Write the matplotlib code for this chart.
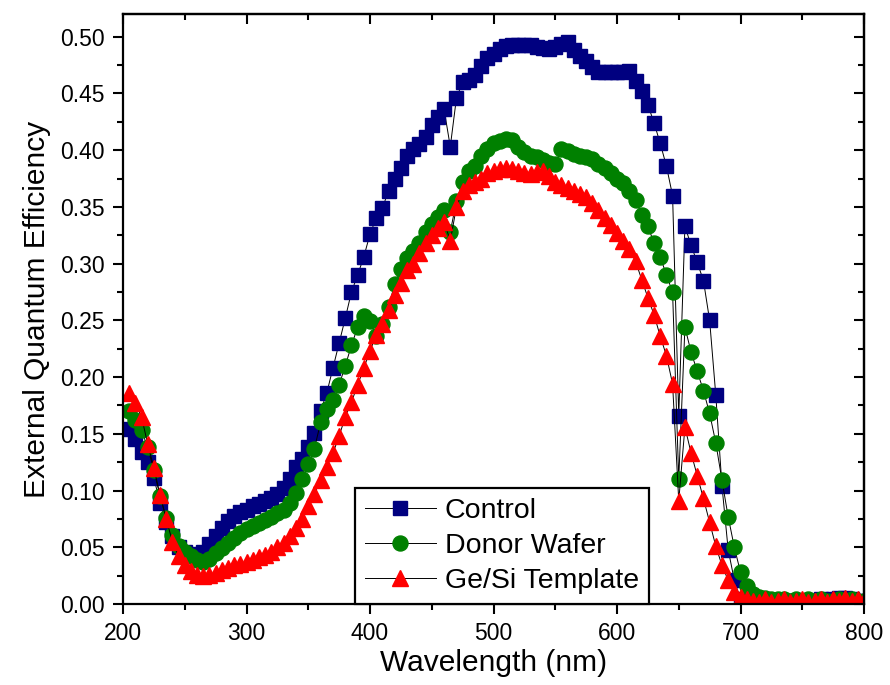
import matplotlib
matplotlib.use('Agg')
import matplotlib.pyplot as plt
from matplotlib.ticker import MultipleLocator, FormatStrFormatter

wavelength = list(range(205, 801, 5))

control = [
    0.154, 0.145, 0.134, 0.125, 0.111, 0.089, 0.072, 0.060, 0.050, 0.046,
    0.043, 0.044, 0.046, 0.053, 0.060, 0.067, 0.073, 0.078, 0.081, 0.083,
    0.086, 0.088, 0.091, 0.093, 0.097, 0.102, 0.110, 0.121, 0.128, 0.138,
    0.151, 0.170, 0.186, 0.208, 0.230, 0.252, 0.275, 0.290, 0.306, 0.326,
    0.340, 0.349, 0.364, 0.375, 0.384, 0.395, 0.401, 0.405, 0.412, 0.422,
    0.429, 0.436, 0.403, 0.446, 0.460, 0.462, 0.466, 0.474, 0.481, 0.485,
    0.489, 0.492, 0.493, 0.493, 0.493, 0.493, 0.491, 0.490, 0.489, 0.491,
    0.494, 0.495, 0.488, 0.483, 0.479, 0.473, 0.469, 0.469, 0.469, 0.469,
    0.469, 0.470, 0.461, 0.452, 0.440, 0.424, 0.406, 0.386, 0.360, 0.166,
    0.333, 0.316, 0.301, 0.285, 0.250, 0.184, 0.104, 0.048, 0.021, 0.004,
    0.003, 0.002, 0.003, 0.002, 0.003, 0.003, 0.002, 0.003, 0.003, 0.002,
    0.003, 0.003, 0.004, 0.003, 0.004, 0.005, 0.005, 0.004, 0.003, 0.003,
]

donor_wafer = [
    0.170, 0.162, 0.153, 0.138, 0.118, 0.095, 0.076, 0.061, 0.051, 0.046,
    0.042, 0.039, 0.037, 0.040, 0.045, 0.049, 0.054, 0.058, 0.063, 0.066,
    0.069, 0.071, 0.074, 0.077, 0.080, 0.083, 0.089, 0.098, 0.110, 0.123,
    0.137, 0.160, 0.172, 0.180, 0.193, 0.210, 0.228, 0.244, 0.254, 0.249,
    0.236, 0.247, 0.262, 0.282, 0.295, 0.305, 0.311, 0.318, 0.328, 0.335,
    0.341, 0.347, 0.328, 0.355, 0.372, 0.382, 0.386, 0.395, 0.401, 0.406,
    0.408, 0.410, 0.409, 0.403, 0.398, 0.395, 0.394, 0.391, 0.389, 0.388,
    0.401, 0.399, 0.397, 0.395, 0.394, 0.392, 0.388, 0.384, 0.380, 0.375,
    0.371, 0.364, 0.356, 0.343, 0.333, 0.318, 0.306, 0.290, 0.275, 0.110,
    0.244, 0.222, 0.205, 0.188, 0.168, 0.142, 0.109, 0.077, 0.050, 0.028,
    0.016, 0.009, 0.006, 0.005, 0.004, 0.004, 0.004, 0.003, 0.004, 0.003,
    0.004, 0.003, 0.004, 0.003, 0.003, 0.004, 0.003, 0.004, 0.003, 0.003,
]

gesi_template = [
    0.186, 0.177, 0.165, 0.141, 0.120, 0.096, 0.075, 0.055, 0.042, 0.034,
    0.029, 0.026, 0.025, 0.026, 0.027, 0.030, 0.032, 0.034, 0.035, 0.037,
    0.039, 0.041, 0.043, 0.046, 0.050, 0.054, 0.060, 0.067, 0.075, 0.086,
    0.097, 0.109, 0.121, 0.133, 0.148, 0.165, 0.178, 0.193, 0.208, 0.223,
    0.237, 0.247, 0.259, 0.272, 0.283, 0.294, 0.300, 0.309, 0.318, 0.325,
    0.331, 0.337, 0.320, 0.350, 0.364, 0.369, 0.372, 0.375, 0.380, 0.382,
    0.383, 0.384, 0.383, 0.382, 0.380, 0.379, 0.381, 0.382, 0.377, 0.372,
    0.369, 0.367, 0.364, 0.361, 0.359, 0.353, 0.347, 0.340, 0.334, 0.327,
    0.320, 0.313, 0.302, 0.286, 0.270, 0.255, 0.236, 0.219, 0.194, 0.091,
    0.156, 0.133, 0.113, 0.093, 0.072, 0.051, 0.034, 0.021, 0.011, 0.006,
    0.004, 0.003, 0.002, 0.004, 0.002, 0.003, 0.004, 0.002, 0.003, 0.004,
    0.002, 0.003, 0.004, 0.002, 0.004, 0.003, 0.005, 0.003, 0.004, 0.003,
]

series_labels = ['Control', 'Donor Wafer', 'Ge/Si Template']
x_ticks = [200, 300, 400, 500, 600, 700, 800]
y_ticks = [0.00, 0.05, 0.10, 0.15, 0.20, 0.25, 0.30, 0.35, 0.40, 0.45, 0.50]

plt.rcParams['font.family'] = ['Liberation Sans', 'DejaVu Sans']

fig = plt.figure(figsize=(8.9, 6.85), dpi=100)
ax = fig.add_axes([123 / 890, 81 / 685, 741 / 890, 590 / 685])

ax.plot(wavelength, control, color='black', lw=0.7, marker='s', ms=9.8,
        mfc='#000080', mec='#000080', label=series_labels[0])
ax.plot(wavelength, donor_wafer, color='black', lw=0.7, marker='o', ms=10.8,
        mfc='#008000', mec='#008000', label=series_labels[1])
ax.plot(wavelength, gesi_template, color='black', lw=0.7, marker='^', ms=11.0,
        mfc='#FF0000', mec='#FF0000', label=series_labels[2])

ax.set_xlim(200, 800)
ax.set_ylim(0, 0.52)
ax.set_xticks(x_ticks)
ax.set_yticks(y_ticks)
ax.xaxis.set_minor_locator(MultipleLocator(50))
ax.yaxis.set_minor_locator(MultipleLocator(0.025))
ax.yaxis.set_major_formatter(FormatStrFormatter('%.2f'))

for s in ax.spines.values():
    s.set_linewidth(1.6)

ax.tick_params(which='major', direction='out', length=7, width=1.5,
               labelsize=16.5, pad=6)
ax.tick_params(which='minor', direction='out', length=4, width=1.5)

# mirrored ticks on top and right (pointing inwards)
sx = ax.secondary_xaxis('top')
sx.set_xticks(x_ticks)
sx.xaxis.set_minor_locator(MultipleLocator(50))
sx.tick_params(which='major', direction='in', length=7, width=1.5, labeltop=False)
sx.tick_params(which='minor', direction='in', length=4, width=1.5)
sx.spines['top'].set_linewidth(1.6)
sy = ax.secondary_yaxis('right')
sy.set_yticks(y_ticks)
sy.yaxis.set_minor_locator(MultipleLocator(0.025))
sy.tick_params(which='major', direction='in', length=7, width=1.5, labelright=False)
sy.tick_params(which='minor', direction='in', length=4, width=1.5)
sy.spines['right'].set_linewidth(1.6)

ax.set_xlabel('Wavelength (nm)', fontsize=21.5, labelpad=3)
ax.set_ylabel('External Quantum Efficiency', fontsize=21.5, labelpad=7)

leg = ax.legend(loc='lower left', bbox_to_anchor=(0.313, 0.0), fontsize=20.5,
                frameon=True, fancybox=False, edgecolor='black', framealpha=1,
                handlelength=2.5, handletextpad=0.3, borderpad=0.35,
                labelspacing=0.32, borderaxespad=0.0)
leg.get_frame().set_linewidth(1.6)

fig.savefig('out.png', dpi=100)
